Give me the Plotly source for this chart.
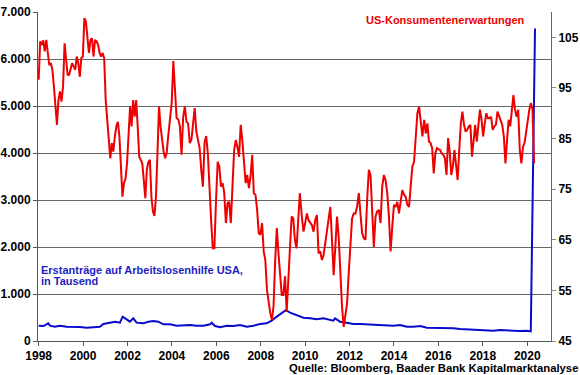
import numpy as np
import plotly.graph_objects as go

# ---- US consumer expectations (right axis), traced in four consecutive segments ----
red_seg1 = [96.6, 104.2, 103.5, 104.4, 102.2, 104.5, 101.9, 99.5, 99.9, 98.6,
            95.3, 91.3, 87.7, 92.6, 94.3, 92.3, 95.3, 103.8, 99.9, 97.6,
            97.6, 98.9, 99.9, 99.2, 98.6, 101.2, 99.9, 97.2, 100.9, 101.2,
            108.8, 108.1, 104.5, 101.9, 104.5, 104.8, 101.2, 104.5, 104.2, 103.5,
            101.9, 101.2, 101.9, 100.9, 92.6, 88.7, 86.0, 81.1, 84.1, 82.4,
            85.4, 87.4, 88.3, 85.4, 79.5, 73.5, 76.2, 77.1, 80.1, 85.4,
            91.3, 87.4, 92.6, 89.3, 92.6, 87.4, 81.4, 80.8, 80.1, 76.8,
            73.2, 78.8, 80.4, 80.8, 73.5, 70.6, 69.7, 73.5, 81.4, 91.3,
            87.4, 84.1, 82.4, 81.1, 82.1, 85.4, 88.7]
red_seg2 = [92.0, 100.3, 93.9, 89.0, 88.8, 87.4, 81.8, 89.3, 91.3, 88.3,
            88.0, 84.1, 84.7, 87.4, 91.0, 86.4, 84.7, 83.1, 78.8, 75.5,
            84.1, 85.5, 82.1, 74.2, 68.9, 63.3, 63.3, 72.9, 80.4, 79.5,
            75.5, 76.2, 74.2, 68.3, 72.2, 72.5, 68.3, 75.5, 82.7, 84.7,
            83.4, 81.4, 87.7, 84.7, 79.5, 76.2, 77.8, 75.2, 77.5, 81.8,
            74.2, 73.9, 70.9, 66.3, 66.0, 68.3, 62.7, 61.0, 55.1, 52.4,
            50.5, 49.2, 51.8, 61.0, 67.3, 62.3, 57.7, 54.1, 54.1, 57.8,
            50.8, 57.7, 63.6, 69.6, 69.2, 65.0, 63.3, 68.9, 74.2]
red_seg3 = [69.6, 66.6, 68.3, 70.2, 68.9, 68.3, 67.9, 66.6, 68.9, 69.9,
            62.3, 62.7, 61.0, 62.0, 64.6, 66.9, 68.9, 71.5, 65.0, 58.0,
            63.6, 69.6, 65.6, 58.4, 51.8, 47.8, 49.8, 52.4, 58.4, 63.6,
            69.2, 70.2, 70.2, 71.5, 74.2, 70.2, 66.3, 65.3, 65.0, 72.9,
            78.8, 77.8, 70.2, 63.6, 69.6, 70.6, 70.9, 68.3, 75.5, 77.8,
            76.8, 74.2, 69.6, 62.7, 67.6, 71.9, 71.5, 72.5, 70.2, 72.9,
            74.8, 73.9, 73.5, 71.9, 71.5, 75.5, 79.5, 80.4, 85.1, 90.0,
            91.3, 88.7, 85.4]
red_seg4 = [88.7, 86.0, 88.0, 84.4, 84.1, 83.1, 78.1, 82.1, 83.1, 82.9,
            82.7, 82.1, 81.8, 81.1, 77.8, 85.1, 82.4, 77.8, 79.5, 82.7,
            79.5, 76.8, 82.7, 88.0, 90.3, 87.7, 86.4, 86.7, 87.4, 87.7,
            81.4, 84.1, 87.7, 84.4, 87.4, 90.7, 88.7, 85.4, 88.0, 90.0,
            89.0, 89.0, 89.3, 86.7, 87.4, 87.7, 90.3, 89.3, 88.7, 87.7,
            85.4, 80.1, 84.7, 88.7, 87.4, 90.7, 93.6, 90.7, 89.3, 90.7,
            82.7, 80.1, 83.4, 84.1, 86.7, 88.3, 90.7, 92.0, 90.7, 80.1]
# time span (decimal years) covered by each traced segment
red_seg_spans = [(1998.00, 2003.90), (2003.99, 2009.76),
                 (2009.85, 2015.28), (2015.36, 2020.31)]

# ---- Initial jobless claims (left axis, thousands) ----
blue_x = [1998.00, 1998.21, 1998.43, 1998.51, 1998.73, 1998.96, 1999.26, 1999.56, 1999.86, 2000.16,
          2000.46, 2000.76, 2000.91, 2001.21, 2001.44, 2001.66, 2001.78, 2001.96, 2002.11, 2002.26,
          2002.41, 2002.71, 2002.94, 2003.16, 2003.39, 2003.61, 2003.91, 2004.21, 2004.51, 2004.82,
          2005.12, 2005.42, 2005.72, 2005.79, 2005.94, 2006.17, 2006.47, 2006.77, 2007.07, 2007.37,
          2007.67, 2007.97, 2008.27, 2008.49, 2008.72, 2008.94, 2009.13, 2009.32, 2009.62, 2009.92,
          2010.22, 2010.52, 2010.82, 2011.12, 2011.27, 2011.35, 2011.57, 2011.87, 2012.17, 2012.47,
          2012.77, 2013.07, 2013.37, 2013.67, 2013.97, 2014.27, 2014.58, 2014.88, 2015.18, 2015.48,
          2015.78, 2016.08, 2016.38, 2016.68, 2016.98, 2017.28, 2017.58, 2017.88, 2018.18, 2018.48,
          2018.78, 2019.08, 2019.38, 2019.68, 2019.98, 2020.16, 2020.26, 2020.35]
blue_y = [326, 319, 376, 326, 305, 326, 305, 305, 298, 284,
          291, 305, 362, 390, 411, 390, 518, 461, 411, 482,
          390, 376, 411, 425, 411, 355, 355, 326, 340, 340,
          326, 326, 355, 390, 319, 291, 326, 319, 340, 305,
          326, 362, 376, 432, 518, 589, 655, 603, 553, 496,
          482, 461, 482, 447, 432, 482, 411, 390, 362, 362,
          355, 355, 340, 326, 326, 340, 305, 305, 319, 284,
          284, 284, 284, 270, 255, 248, 255, 248, 234, 220,
          234, 234, 220, 213, 220, 205, 3300, 6650]

left_ticks = [0, 1000, 2000, 3000, 4000, 5000, 6000, 7000]
left_labels = ["0", "1.000", "2.000", "3.000", "4.000", "5.000", "6.000", "7.000"]
right_ticks = [45, 55, 65, 75, 85, 95, 105]
year_ticks = list(range(1998, 2021, 2))

red_x, red_y = [], []
for seg, (a, b) in zip([red_seg1, red_seg2, red_seg3, red_seg4], red_seg_spans):
    red_x.extend(np.linspace(a, b, len(seg)))
    red_y.extend(seg)

FONT = "Liberation Sans, Arial, sans-serif"
RED = "#EE0000"
BLUE = "#0A0ACC"
GRID = "#666666"

fig = go.Figure()
fig.add_trace(go.Scatter(x=blue_x, y=blue_y, mode="lines",
                         line=dict(color=BLUE, width=2), yaxis="y", showlegend=False))
fig.add_trace(go.Scatter(x=red_x, y=red_y, mode="lines",
                         line=dict(color=RED, width=2), yaxis="y2", showlegend=False))

tickfont = dict(family=FONT, size=12, color="#000000", weight="bold")
fig.update_layout(
    width=580, height=375,
    margin=dict(l=38, r=29, t=12, b=34, autoexpand=False),
    paper_bgcolor="white", plot_bgcolor="white",
    font=dict(family=FONT),
    xaxis=dict(range=[1997.97, 2021.07], tickvals=year_ticks,
               ticktext=[str(y) for y in year_ticks], automargin=False,
               ticks="outside", ticklen=4, tickcolor="#555555",
               showline=True, linecolor="#555555", linewidth=1,
               showgrid=False, zeroline=False, tickfont=tickfont),
    yaxis=dict(range=[0, 7000], tickvals=left_ticks, ticktext=left_labels,
               automargin=False,
               ticks="outside", ticklen=4, tickcolor="#555555",
               showline=True, linecolor="#555555", linewidth=1,
               showgrid=True, gridcolor=GRID, gridwidth=1,
               zeroline=False, tickfont=tickfont),
    yaxis2=dict(range=[45, 110], tickvals=right_ticks,
                ticktext=[str(v) for v in right_ticks], automargin=False,
                overlaying="y", side="right",
                ticks="outside", ticklen=4, tickcolor="#888888",
                showline=True, linecolor="#666666", linewidth=1,
                showgrid=False, zeroline=False, tickfont=tickfont),
)

fig.add_annotation(text="US-Konsumentenerwartungen", xref="paper", yref="paper",
                   x=0.953, y=0.976, xanchor="right", yanchor="middle", showarrow=False,
                   font=dict(family=FONT, size=11, color=RED, weight="bold"))
fig.add_annotation(text="Erstanträge auf Arbeitslosenhilfe USA,", xref="paper", yref="paper",
                   x=0.002, y=0.217, xanchor="left", yanchor="middle", showarrow=False,
                   font=dict(family=FONT, size=11, color="#1E1EC0", weight="bold"))
fig.add_annotation(text="in Tausend", xref="paper", yref="paper",
                   x=0.002, y=0.181, xanchor="left", yanchor="middle", showarrow=False,
                   font=dict(family=FONT, size=11, color="#1E1EC0", weight="bold"))
fig.add_annotation(text="Quelle: Bloomberg, Baader Bank Kapitalmarktanalyse",
                   xref="paper", yref="paper", x=1.056, y=-0.082,
                   xanchor="right", yanchor="middle", showarrow=False,
                   font=dict(family=FONT, size=11.3, color="#000000", weight="bold"))

fig.write_html("out.html", config={"displayModeBar": False},
               post_script="document.body.style.margin='0';document.body.style.padding='0';")
